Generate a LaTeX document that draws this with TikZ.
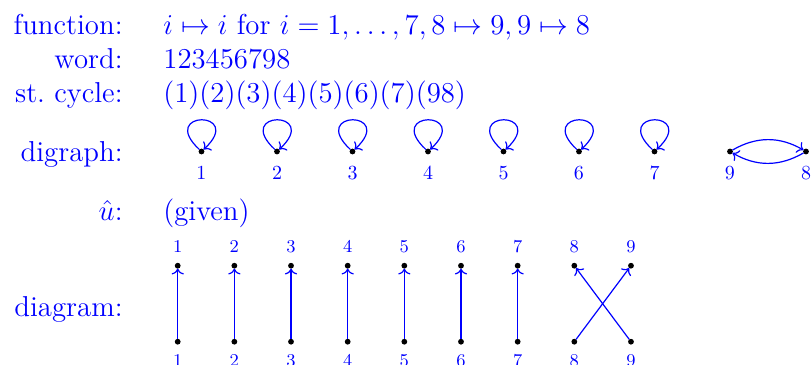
\documentclass[tikz,border=0pt]{standalone}
\usepackage{xcolor}
\usepackage{tikz}
\usepackage{amsmath}
\usetikzlibrary{arrows.meta, positioning}
\definecolor{permblue}{HTML}{0000FF}
\tikzstyle{rowlabel} = [anchor=base east, inner sep=0pt, text=permblue, font=\fontsize{14.4}{17}\selectfont]
\tikzstyle{rowvalue} = [anchor=base west, inner sep=0pt, text=permblue, font=\fontsize{14.4}{17}\selectfont]
\tikzstyle{vertex} = [circle, fill=black, inner sep=0pt, outer sep=0pt, minimum size=2.9pt]
\tikzstyle{gnum} = [inner sep=0pt, text=permblue, font=\fontsize{10}{12}\selectfont]
\tikzstyle{dnum} = [inner sep=0pt, text=permblue, font=\fontsize{9}{11}\selectfont]
\tikzstyle{arrow} = [->, line width=0.6pt, draw=permblue]
\tikzstyle{selfloop} = [out=137, in=43, min distance=29pt]

\begin{document}
\begin{tikzpicture}[x=0.5pt, y=-0.5pt, on grid]
    \useasboundingbox (0,0) rectangle (811,365);

    % Row titles
    \node[rowlabel] (tfun) at (123,34) {function:};
    \node[rowlabel] (tword) at (123,68) {word:};
    \node[rowlabel] (tcyc) at (123,102.3) {st.\ cycle:};
    \node[rowlabel] (tgraph) at (123,161.7) {digraph:};
    \node[rowlabel] (tuhat) at (123,220.7) {$\hat{u}$:};
    \node[rowlabel] (tdiag) at (123,316.7) {diagram:};

    % Row contents
    \node[rowvalue] (vfun) at (163,34) {$i \mapsto i$ for $i = 1, \ldots, 7, 8 \mapsto 9, 9 \mapsto 8$};
    \node[rowvalue] (vword) at (163,68) {123456798};
    \node[rowvalue] (vcyc) at (163,102.3) {(1)(2)(3)(4)(5)(6)(7)(98)};
    \node[rowvalue] (vuhat) at (163,220.7) {(given)};

    % Digraph
    \node[vertex, label={[gnum, label distance=5.5pt]below:1}] (g1) at (201.5,151.5) {};
    \node[vertex, label={[gnum, label distance=5.5pt]below:2}, right=37.75pt of g1] (g2) {};
    \node[vertex, label={[gnum, label distance=5.5pt]below:3}, right=37.75pt of g2] (g3) {};
    \node[vertex, label={[gnum, label distance=5.5pt]below:4}, right=37.75pt of g3] (g4) {};
    \node[vertex, label={[gnum, label distance=5.5pt]below:5}, right=37.75pt of g4] (g5) {};
    \node[vertex, label={[gnum, label distance=5.5pt]below:6}, right=37.75pt of g5] (g6) {};
    \node[vertex, label={[gnum, label distance=5.5pt]below:7}, right=37.75pt of g6] (g7) {};
    \node[vertex, label={[gnum, label distance=5.5pt]below:9}] (g9) at (730,151.5) {};
    \node[vertex, label={[gnum, label distance=5.5pt]below:8}, right=38pt of g9] (g8) {};

    % Diagram, top row
    \node[vertex, label={[dnum, label distance=4.85pt]above:1}] (t1) at (177.7,265.7) {};
    \node[vertex, label={[dnum, label distance=4.85pt]above:2}, right=28.33pt of t1] (t2) {};
    \node[vertex, label={[dnum, label distance=4.85pt]above:3}, right=28.33pt of t2] (t3) {};
    \node[vertex, label={[dnum, label distance=4.85pt]above:4}, right=28.33pt of t3] (t4) {};
    \node[vertex, label={[dnum, label distance=4.85pt]above:5}, right=28.33pt of t4] (t5) {};
    \node[vertex, label={[dnum, label distance=4.85pt]above:6}, right=28.33pt of t5] (t6) {};
    \node[vertex, label={[dnum, label distance=4.85pt]above:7}, right=28.33pt of t6] (t7) {};
    \node[vertex, label={[dnum, label distance=4.85pt]above:8}, right=28.33pt of t7] (t8) {};
    \node[vertex, label={[dnum, label distance=4.85pt]above:9}, right=28.33pt of t8] (t9) {};

    % Diagram, bottom row
    \node[vertex, label={[dnum, label distance=4.85pt]below:1}, below=38pt of t1] (b1) {};
    \node[vertex, label={[dnum, label distance=4.85pt]below:2}, below=38pt of t2] (b2) {};
    \node[vertex, label={[dnum, label distance=4.85pt]below:3}, below=38pt of t3] (b3) {};
    \node[vertex, label={[dnum, label distance=4.85pt]below:4}, below=38pt of t4] (b4) {};
    \node[vertex, label={[dnum, label distance=4.85pt]below:5}, below=38pt of t5] (b5) {};
    \node[vertex, label={[dnum, label distance=4.85pt]below:6}, below=38pt of t6] (b6) {};
    \node[vertex, label={[dnum, label distance=4.85pt]below:7}, below=38pt of t7] (b7) {};
    \node[vertex, label={[dnum, label distance=4.85pt]below:8}, below=38pt of t8] (b8) {};
    \node[vertex, label={[dnum, label distance=4.85pt]below:9}, below=38pt of t9] (b9) {};

    % Loops and arcs
    \draw[arrow] (g1) to[selfloop] (g1);
    \draw[arrow] (g2) to[selfloop] (g2);
    \draw[arrow] (g3) to[selfloop] (g3);
    \draw[arrow] (g4) to[selfloop] (g4);
    \draw[arrow] (g5) to[selfloop] (g5);
    \draw[arrow] (g6) to[selfloop] (g6);
    \draw[arrow] (g7) to[selfloop] (g7);
    \draw[arrow] (g9) to[bend left=30] (g8);
    \draw[arrow] (g8) to[bend left=30] (g9);

    % Strands
    \draw[arrow] (b1) -- (t1);
    \draw[arrow] (b2) -- (t2);
    \draw[arrow] (b3) -- (t3);
    \draw[arrow] (b4) -- (t4);
    \draw[arrow] (b5) -- (t5);
    \draw[arrow] (b6) -- (t6);
    \draw[arrow] (b7) -- (t7);
    \draw[arrow] (b8) -- (t9);
    \draw[arrow] (b9) -- (t8);
\end{tikzpicture}
\end{document}
